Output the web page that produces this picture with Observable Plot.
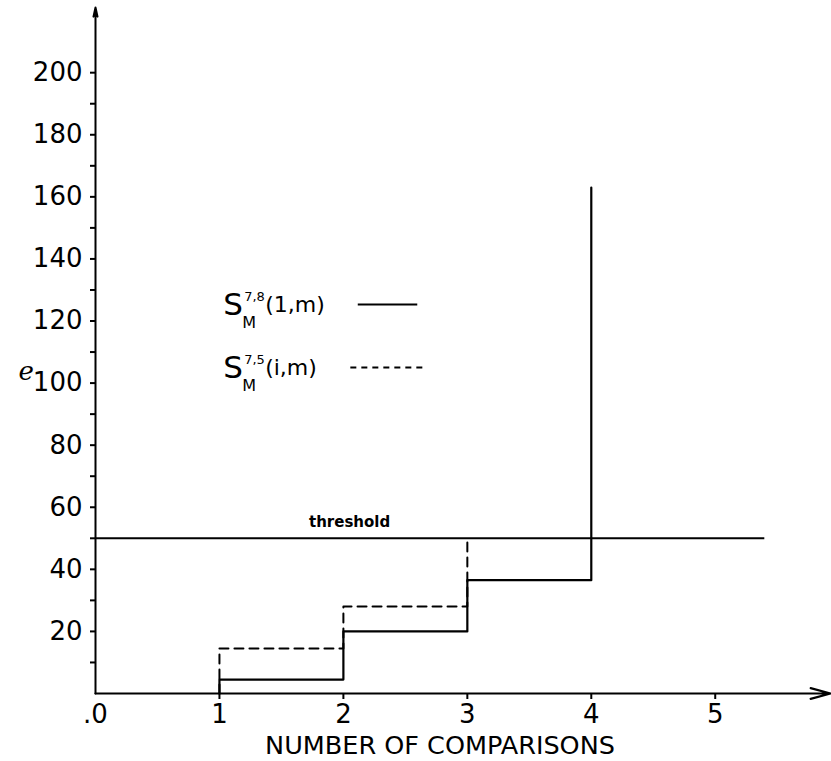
<!DOCTYPE html>
<html><head><meta charset="utf-8">
<script src="https://cdn.jsdelivr.net/npm/d3@7"></script>
<script src="https://cdn.jsdelivr.net/npm/@observablehq/plot@0.6"></script>
<style>html,body{margin:0;padding:0;background:#fff}</style>
</head><body><div id="chart"></div>
<script>
// ---- data ----
const comparisons = [1, 2, 3, 4];
const s78 = [4.5, 20, 36.5, 163];      // solid step series
const s75 = [14.5, 28, 50];            // dashed step series
const threshold = 50;
const yTicks = [20, 40, 60, 80, 100, 120, 140, 160, 180, 200];
const yMinorTicks = [10, 30, 50, 70, 90, 110, 130, 150, 170, 190];
const xTicks = [0, 1, 2, 3, 4, 5];
const xTickLabels = [".0", "1", "2", "3", "4", "5"];
const xLabel = "NUMBER OF COMPARISONS";
const yLabel = "e";
const thresholdLabel = "threshold";
const legendSup = ["7,8", "7,5"];
const legendArg = ["(1,m)", "(i,m)"];
const legendStyle = ["solid", "dashed"];
const xDomainMax = 5.93, yDomainMax = 221, thresholdEnd = 5.4;

// ---- layout (not data) ----
const legendRowsY = [121.8, 101.5];
const legendX = 1.03;
const swatch = {solid: [2.12, 2.60], dashed: [2.06, 2.645]};

const solid = [{x: comparisons[0], y: 0}, ...comparisons.map((c, i) => ({x: c, y: s78[i]}))];
const dashed = [{x: comparisons[0], y: 0}, ...s75.map((v, i) => ({x: comparisons[i], y: v}))];
const legendRows = legendSup.map((s, i) => ({sup: s, arg: legendArg[i], style: legendStyle[i], y: legendRowsY[i]}));

const font = "DejaVu Sans, sans-serif";
const chart = Plot.plot({
  width: 831, height: 761,
  marginLeft: 95, marginRight: 1, marginTop: 7, marginBottom: 68,
  style: {fontFamily: font, fontSize: "26px", background: "#fff", color: "#000"},
  x: {domain: [0, xDomainMax]},
  y: {domain: [0, yDomainMax]},
  marks: [
    // axes lines with arrowheads
    Plot.arrow([{x1: 0, y1: 0, x2: xDomainMax, y2: 0}], {x1: "x1", y1: "y1", x2: "x2", y2: "y2", stroke: "#000", strokeWidth: 2.2, headLength: 14, headAngle: 30}),
    Plot.arrow([{x1: 0, y1: 0, x2: 0, y2: yDomainMax}], {x1: "x1", y1: "y1", x2: "x2", y2: "y2", stroke: "#000", strokeWidth: 2, headLength: 7, headAngle: 25}),
    // y ticks
    Plot.axisY({ticks: yTicks, tickSize: 5, tickPadding: 8, label: null, fontSize: 26, strokeWidth: 2}),
    Plot.axisY({ticks: yMinorTicks, tickSize: 5, tickFormat: () => "", label: null, strokeWidth: 2}),
    // x ticks
    Plot.axisX({ticks: xTicks.slice(1), tickSize: 6, tickFormat: () => "", label: null, strokeWidth: 2}),
    Plot.axisX({ticks: xTicks, tickSize: 0, tickPadding: 11, tickFormat: (d) => xTickLabels[xTicks.indexOf(d)], label: null, fontSize: 26}),
    // threshold
    Plot.ruleY([threshold], {x1: 0, x2: thresholdEnd, stroke: "#000", strokeWidth: 2}),
    Plot.text([thresholdLabel], {x: 2.05, y: threshold, dy: -16, text: d => d, fontSize: 15, fontWeight: "bold", fontFamily: font, letterSpacing: "2px", lineAnchor: "middle"}),
    // step series
    Plot.line(dashed, {x: "x", y: "y", curve: "step-after", stroke: "#000", strokeWidth: 2, strokeDasharray: "9,6"}),
    Plot.line(solid, {x: "x", y: "y", curve: "step-after", stroke: "#000", strokeWidth: 2.2}),
    // axis labels
    Plot.text([xLabel], {frameAnchor: "bottom", dx: -23, dy: 52, text: d => d, fontSize: 25.5, fontFamily: font, lineAnchor: "middle"}),
    Plot.text([yLabel], {frameAnchor: "left", dx: -77, dy: 21, text: d => d, fontSize: 26, fontStyle: "italic", fontFamily: "DejaVu Serif, serif", lineAnchor: "middle"}),
    // legend
    Plot.text(legendRows, {x: legendX, y: "y", text: () => "S", fontSize: 31, textAnchor: "start", lineAnchor: "bottom", fontFamily: font}),
    Plot.text(legendRows, {x: legendX, y: "y", dx: 21, dy: -14, text: "sup", fontSize: 13, textAnchor: "start", lineAnchor: "bottom", fontFamily: font}),
    Plot.text(legendRows, {x: legendX, y: "y", dx: 19, dy: 13, text: () => "M", fontSize: 16, textAnchor: "start", lineAnchor: "bottom", fontFamily: font}),
    Plot.text(legendRows, {x: legendX, y: "y", dx: 42, dy: -3, text: "arg", fontSize: 22, textAnchor: "start", lineAnchor: "bottom", fontFamily: font}),
    Plot.ruleY(legendRows.filter(d => d.style === "solid"), {y: "y", dy: -11, x1: swatch.solid[0], x2: swatch.solid[1], stroke: "#000", strokeWidth: 2}),
    Plot.ruleY(legendRows.filter(d => d.style === "dashed"), {y: "y", dy: -11, x1: swatch.dashed[0], x2: swatch.dashed[1], stroke: "#000", strokeWidth: 2, strokeDasharray: "6,5"})
  ]
});
document.getElementById("chart").append(chart);
</script>
</body></html>
